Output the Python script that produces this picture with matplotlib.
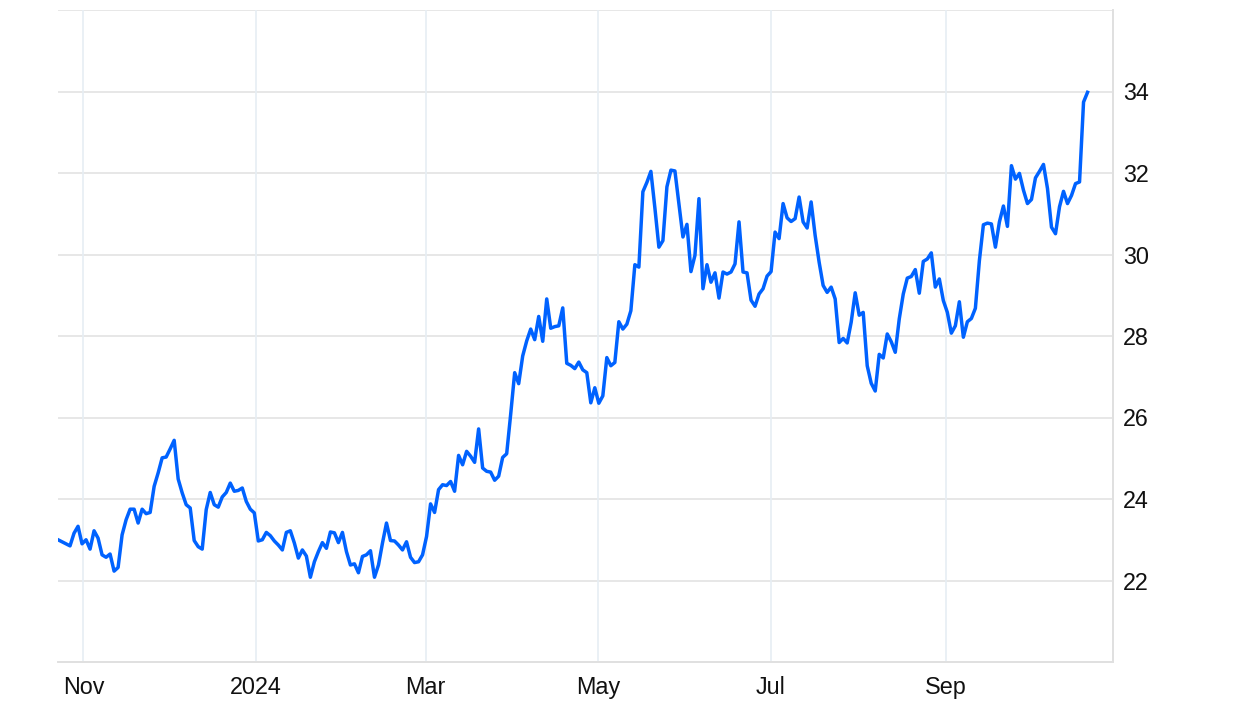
import pandas as pd
import matplotlib.pyplot as plt

# values, one per trading session (Oct 2023 - Oct 2024)
seg1 = [23.0, 22.95, 22.9, 22.85, 23.16, 23.33, 22.9, 23.0, 22.77, 23.22, 23.04, 22.63,
        22.57, 22.65, 22.23, 22.32, 23.12, 23.49, 23.75, 23.75, 23.41, 23.75, 23.64,
        23.67, 24.31, 24.64, 25.01, 25.03, 25.23, 25.44, 24.49, 24.15, 23.86, 23.78,
        22.98, 22.83, 22.77, 23.74, 24.16, 23.86, 23.8, 24.05, 24.16, 24.39, 24.19]
seg2 = [24.21, 24.27, 23.94, 23.75, 23.66, 22.97, 23.0, 23.18, 23.1, 22.97, 22.87, 22.75,
        23.18, 23.22, 22.92, 22.55, 22.75, 22.6, 22.08, 22.46, 22.71, 22.93, 22.79,
        23.19, 23.17, 22.93, 23.18, 22.71, 22.38, 22.41, 22.19, 22.59, 22.63, 22.73,
        22.08, 22.38, 22.92, 23.41, 22.98, 22.97, 22.87, 22.75, 22.95, 22.57]
seg3 = [22.44, 22.46, 22.63, 23.08, 23.88, 23.67, 24.23]
seg4 = [24.35, 24.33, 24.43, 24.19, 25.07, 24.84, 25.17, 25.05, 24.9, 25.72, 24.76, 24.68,
        24.66, 24.46, 24.56, 25.02, 25.11, 26.08, 27.1, 26.83, 27.51, 27.88, 28.17,
        27.91, 28.48, 27.87, 28.91, 28.19, 28.23, 28.25, 28.69, 27.33, 27.28, 27.2,
        27.36, 27.17]
seg5 = [27.1, 26.36, 26.73, 26.35, 26.53, 27.47, 27.27, 27.35, 28.35, 28.17, 28.29, 28.62,
        29.75, 29.69, 31.54, 31.77, 32.04, 31.14, 30.18, 30.34, 31.66, 32.07, 32.05,
        31.25, 30.43, 30.74, 29.58, 29.98, 31.37, 29.16, 29.75, 29.32, 29.55, 28.93,
        29.57, 29.52, 29.57, 29.77, 30.8, 29.57, 29.55, 28.88, 28.73, 29.03]
seg6 = [29.16, 29.47, 29.58, 30.55, 30.39, 31.25, 30.9, 30.81, 30.88, 31.41, 30.8, 30.65,
        31.29, 30.47, 29.81, 29.24, 29.07, 29.2, 28.91, 27.84, 27.94, 27.83, 28.34,
        29.06, 28.51, 28.58, 27.27, 26.84, 26.65, 27.55, 27.46, 28.05, 27.86, 27.6,
        28.42, 29.03, 29.42, 29.46, 29.63, 29.05, 29.83, 29.89, 30.04]
seg7 = [29.2, 29.4, 28.87, 28.58, 28.07, 28.25, 28.84, 27.97, 28.35, 28.43, 28.68, 29.85,
        30.73, 30.77, 30.75, 30.18, 30.8, 31.19, 30.69, 32.18, 31.85, 31.99, 31.58,
        31.25, 31.35, 31.88, 32.04, 32.21, 31.62, 30.67, 30.51, 31.17, 31.55, 31.25,
        31.45, 31.74, 31.78, 33.74, 33.98]

prices = seg1 + seg2 + seg3 + seg4 + seg5 + seg6 + seg7
start_date = "2023-10-23"
end_date = "2024-10-21"
dates = pd.date_range(start_date, end_date, periods=len(prices))

tick_dates = ["2023-11-01", "2024-01-01", "2024-03-01", "2024-05-01", "2024-07-01", "2024-09-01"]
tick_labels = ["Nov", "2024", "Mar", "May", "Jul", "Sep"]
y_ticks = [22, 24, 26, 28, 30, 32, 34]

plt.rcParams['font.family'] = ['Liberation Sans', 'DejaVu Sans']

fig = plt.figure(figsize=(12.52, 7.04), dpi=100)
ax = fig.add_axes([58 / 1252, 1 - 662 / 704, (1113 - 58) / 1252, (662 - 10) / 704])

ax.plot(dates, prices, color='#0062ff', lw=2.5, solid_joinstyle='round', zorder=3)

ax.set_ylim(20, 36)
ax.set_xlim(pd.Timestamp(start_date), pd.Timestamp("2024-10-30"))

# grid
for y in y_ticks + [36]:
    ax.axhline(y, color='#e3e3e3', lw=1.2, zorder=1)
for d in tick_dates:
    ax.axvline(pd.Timestamp(d), color='#e6eef4', lw=1.2, zorder=1)

ax.yaxis.tick_right()
ax.set_yticks(y_ticks)
ax.set_yticklabels([str(v) for v in y_ticks])
ax.set_xticks([pd.Timestamp(d) for d in tick_dates])
ax.set_xticklabels(tick_labels)
ax.tick_params(axis='both', length=0, labelsize=16.8, colors='#111111')
ax.tick_params(axis='x', pad=10)
ax.tick_params(axis='y', pad=7)

for side in ['top', 'left']:
    ax.spines[side].set_visible(False)
ax.spines['bottom'].set_color('#e0e0e0')
ax.spines['bottom'].set_linewidth(1.4)
ax.spines['right'].set_color('#e0e0e0')
ax.spines['right'].set_linewidth(1.4)

fig.savefig('out.png', dpi=100)
